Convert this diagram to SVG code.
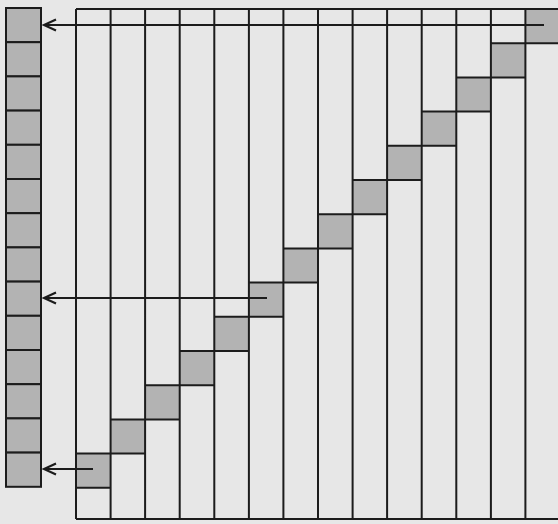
<svg xmlns="http://www.w3.org/2000/svg" width="558" height="524" viewBox="0 0 558 524">
<defs>
<style>
.ln{stroke:#1c1c1c;stroke-width:2;fill:none}
.g{fill:#b3b3b3}
.c{fill:#b3b3b3;stroke:#1c1c1c;stroke-width:2}
.ar{stroke:#1c1c1c;stroke-width:2;fill:none}
</style>
<marker id="ah" markerWidth="16" markerHeight="14" refX="14" refY="7" orient="auto" markerUnits="userSpaceOnUse">
<path d="M2,1.5 L14,7 L2,12.5" fill="none" stroke="#1c1c1c" stroke-width="2.2"/>
</marker>
</defs>
<rect width="558" height="524" fill="#e7e7e7"/>
<g id="memory">
<rect class="c" x="6" y="8" width="35" height="34.2"/>
<rect class="c" x="6" y="42.2" width="35" height="34.2"/>
<rect class="c" x="6" y="76.4" width="35" height="34.2"/>
<rect class="c" x="6" y="110.6" width="35" height="34.2"/>
<rect class="c" x="6" y="144.8" width="35" height="34.2"/>
<rect class="c" x="6" y="179" width="35" height="34.2"/>
<rect class="c" x="6" y="213.2" width="35" height="34.2"/>
<rect class="c" x="6" y="247.4" width="35" height="34.2"/>
<rect class="c" x="6" y="281.6" width="35" height="34.2"/>
<rect class="c" x="6" y="315.8" width="35" height="34.2"/>
<rect class="c" x="6" y="350" width="35" height="34.2"/>
<rect class="c" x="6" y="384.2" width="35" height="34.2"/>
<rect class="c" x="6" y="418.4" width="35" height="34.2"/>
<rect class="c" x="6" y="452.6" width="35" height="34.2"/>
</g>
<g id="grid">
<rect class="g" x="525.4" y="9" width="34.6" height="34.2"/>
<rect class="g" x="490.9" y="43.2" width="34.5" height="34.2"/>
<rect class="g" x="456.3" y="77.4" width="34.6" height="34.2"/>
<rect class="g" x="421.7" y="111.6" width="34.6" height="34.2"/>
<rect class="g" x="387.1" y="145.8" width="34.6" height="34.2"/>
<rect class="g" x="352.6" y="180" width="34.5" height="34.2"/>
<rect class="g" x="318" y="214.2" width="34.6" height="34.2"/>
<rect class="g" x="283.4" y="248.4" width="34.6" height="34.2"/>
<rect class="g" x="248.9" y="282.6" width="34.5" height="34.2"/>
<rect class="g" x="214.3" y="316.8" width="34.6" height="34.2"/>
<rect class="g" x="179.7" y="351" width="34.6" height="34.2"/>
<rect class="g" x="145.1" y="385.2" width="34.6" height="34.2"/>
<rect class="g" x="110.6" y="419.4" width="34.5" height="34.2"/>
<rect class="g" x="76" y="453.6" width="34.6" height="34.2"/>
<path class="ln" d="M76,9 H560 M76,519 H560
M76,9 V519 M110.6,9 V519 M145.1,9 V519 M179.7,9 V519 M214.3,9 V519 M248.9,9 V519 M283.4,9 V519 M318,9 V519 M352.6,9 V519 M387.1,9 V519 M421.7,9 V519 M456.3,9 V519 M490.9,9 V519 M525.4,9 V519 M560,9 V519
M490.9,43.2 H560 M456.3,77.4 H525.4 M421.7,111.6 H490.9 M387.1,145.8 H456.3 M352.6,180 H421.7 M318,214.2 H387.1 M283.4,248.4 H352.6 M248.9,282.6 H318 M214.3,316.8 H283.4 M179.7,351 H248.9 M145.1,385.2 H214.3 M110.6,419.4 H179.7 M76,453.6 H145.1 M76,487.8 H110.6"/>
</g>
<g id="connectors">
<line class="ar" x1="544" y1="25" x2="44" y2="25" marker-end="url(#ah)"/>
<line class="ar" x1="267" y1="298" x2="44" y2="298" marker-end="url(#ah)"/>
<line class="ar" x1="93" y1="469" x2="44" y2="469" marker-end="url(#ah)"/>
</g>
</svg>
